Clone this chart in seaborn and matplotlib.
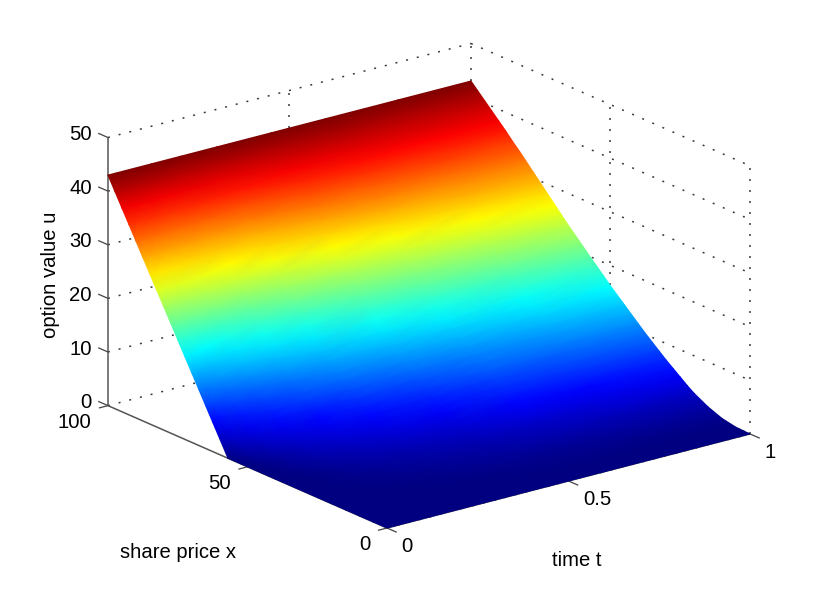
import numpy as np
import matplotlib
matplotlib.use("Agg")
import matplotlib.pyplot as plt
from matplotlib.colors import LinearSegmentedColormap
import seaborn as sns
from mpl_toolkits.mplot3d import proj3d

# ---- data ----
share_price = [0, 5, 10, 15, 20, 22.5, 25, 27.5, 30, 32.5, 35, 37.5, 40, 42.5, 45, 47.5, 50, 52.5, 55, 57,
               60, 62.5, 65, 67.5, 70, 72.5, 75, 77.5, 80, 82.5, 85, 87.5, 90, 92.5, 95, 97.5, 100]
time_values = [0, 0.02, 0.06, 0.12, 0.2, 0.3, 0.45, 0.6, 0.8, 1.0]
u_t000 = [0, 0, 0, 0, 0, 0, 0, 0, 0, 0, 0, 0, 0, 0, 0, 0, 0, 0, 0, 0,
          3, 5.5, 8, 10.5, 13, 15.5, 18, 20.5, 23, 25.5, 28, 30.5, 33, 35.5, 38, 40.5, 43]
u_t002 = [0, 0, 0, 0, 0, 0, 0, 0, 0, 0, 0, 0, 0, 0, 0.1, 0.3, 0.6, 1.1, 1.9, 2.8,
          4.5, 6.3, 8.4, 10.7, 13.1, 15.5, 18, 20.5, 23, 25.5, 28, 30.5, 33, 35.5, 38, 40.5, 43]
u_t006 = [0, 0, 0, 0, 0, 0, 0, 0, 0.05, 0.1, 0.16, 0.3, 0.45, 0.7, 1, 1.5, 2.1, 2.9, 3.9, 4.8,
          6.5, 8.1, 9.9, 11.8, 13.9, 16.1, 18.4, 20.7, 23.1, 25.5, 28, 30.5, 33, 35.5, 38, 40.5, 43]
u_t012 = [0, 0, 0, 0, 0.1, 0.15, 0.2, 0.3, 0.4, 0.6, 0.8, 1.1, 1.45, 1.9, 2.45, 3.1, 3.9, 4.8, 5.9, 6.8,
          8.5, 9.9, 11.5, 13.3, 15.2, 17.2, 19.3, 21.5, 23.7, 26, 28.4, 30.8, 33.2, 35.6, 38.1, 40.5, 43]
u_t020 = [0, 0, 0, 0.1, 0.3, 0.45, 0.6, 0.8, 1.1, 1.4, 1.8, 2.3, 2.8, 3.4, 4.1, 4.9, 5.7, 6.7, 7.9, 8.8,
          10.4, 11.8, 13.4, 15, 16.8, 18.7, 20.6, 22.6, 24.7, 26.9, 29.1, 31.4, 33.7, 36, 38.3, 40.6, 43]
u_t030 = [0, 0, 0.1, 0.3, 0.6, 0.8, 1.1, 1.4, 1.8, 2.3, 2.9, 3.5, 4.2, 5, 5.8, 6.7, 7.6, 8.7, 9.8, 10.8,
          12.3, 13.7, 15.2, 17, 18.9, 20.7, 22.6, 24.5, 26.4, 28.4, 30.4, 32.5, 34.6, 36.7, 38.8, 40.9, 43]
u_t045 = [0, 0, 0.2, 0.6, 1.2, 1.6, 2, 2.5, 3, 3.6, 4.3, 5.1, 5.9, 6.8, 7.8, 8.9, 10, 11, 12.1, 13.2,
          15, 16.7, 18.4, 20.1, 21.8, 23.5, 25.2, 27, 28.8, 30.7, 32.6, 34.3, 36, 37.8, 39.5, 41.2, 43]
u_t060 = [0, 0.1, 0.4, 1, 1.9, 2.4, 3, 3.9, 4.8, 5.6, 6.4, 7.3, 8.2, 9.1, 10, 10.9, 11.9, 13, 14.2, 15.3,
          17, 18.5, 20, 21.6, 23.2, 24.9, 26.7, 28.5, 30.3, 32.1, 33.9, 35.5, 37, 38.5, 40, 41.5, 43]
u_t080 = [0, 0.1, 0.5, 1.3, 2.5, 3.2, 3.9, 4.8, 5.7, 6.6, 7.6, 8.6, 9.7, 10.8, 11.9, 13, 14.2, 15.4, 16.6, 17.7,
          19.3, 20.7, 22.2, 23.8, 25.5, 27, 28.5, 30.1, 31.7, 33.2, 34.8, 36.2, 37.6, 39, 40.3, 41.6, 43]
u_t100 = [0, 0.1, 0.6, 1.6, 3, 3.9, 4.9, 5.9, 6.9, 8, 9.1, 10.2, 11.4, 12.6, 13.8, 15, 16.2, 17.5, 18.8, 19.8,
          21.4, 22.7, 24, 25.4, 26.8, 28.2, 29.6, 31, 32.4, 33.8, 35.1, 36.5, 37.8, 39.1, 40.4, 41.7, 43]
x_ticks = [0, 50, 100]
t_ticks = [0, 0.5, 1]
z_ticks = [0, 10, 20, 30, 40, 50]
x_tick_labels = ["0", "50", "100"]
t_tick_labels = ["0", "0.5", "1"]
z_tick_labels = ["0", "10", "20", "30", "40", "50"]

W, H = 830, 596
sns.set_theme(style="white")
plt.rcParams["font.family"] = ["Liberation Sans", "DejaVu Sans"]
jet = LinearSegmentedColormap.from_list("jet_classic", [
    (0.0, (0, 0, 0.5)), (0.125, (0, 0, 1)), (0.375, (0, 1, 1)),
    (0.625, (1, 1, 0)), (0.875, (1, 0, 0)), (1.0, (0.5, 0, 0))], N=256)

fig = plt.figure(figsize=(W / 100, H / 100), dpi=100, facecolor="white")
ax = fig.add_axes([0, 0, 1, 1], projection="3d", proj_type="ortho", zorder=1)
ax.view_init(elev=19.7, azim=-127.55)
ax.set_box_aspect((1, 1, 0.622))
ax.set_xlim(0, 1)
ax.set_ylim(0, 100)
ax.set_zlim(0, 50)
ax.set_axis_off()
ax.patch.set_visible(False)


def place(side, cx, cy):
    ax.set_position([(cx - side / 2) / W, (cy - side / 2) / H, side / W, side / H])
    ax.apply_aspect()


def to_px(t, x, z):
    shape = np.shape(t)
    xp, yp, _ = proj3d.proj_transform(np.ravel(np.asarray(t, float)), np.ravel(np.asarray(x, float)),
                                      np.ravel(np.asarray(z, float)), ax.get_proj())
    pts = ax.transData.transform(np.column_stack([xp, yp]))
    return pts[:, 0].reshape(shape), pts[:, 1].reshape(shape)


# fit the axes box so that the t=0,x=0 corner and the t axis fall where they do in the reference
side = 800.0
place(side, W / 2, H / 2)
x0, y0 = to_px(0.0, 0.0, 0.0)
x1, y1 = to_px(1.0, 0.0, 0.0)
side = side * 363.0 / float(x1 - x0)
place(side, W / 2, H / 2)
x0, y0 = to_px(0.0, 0.0, 0.0)
place(side, W / 2 + (387 - float(x0)), H / 2 + ((H - 528) - float(y0)))

GRID = dict(color="#3a3a3a", lw=1.1, ls=(0, (1.3, 5.9)), clip_on=False)
AXIS = dict(color="#555555", lw=1.1, clip_on=False, solid_capstyle="butt")
TICK = dict(color="#444444", lw=0.9, clip_on=False, solid_capstyle="butt")

# walls: constant-z rings and vertical lines
for z in z_ticks:
    ax.plot([0, 1], [100, 100], [z, z], **GRID)
    ax.plot([1, 1], [100, 0], [z, z], **GRID)
for t in t_ticks[1:]:
    ax.plot([t, t], [100, 100], [0, 50], **GRID)
    ax.plot([t, t], [0, 100], [0, 0], **GRID)
for x in x_ticks[:-1]:
    ax.plot([1, 1], [x, x], [0, 50], **GRID)
    ax.plot([0, 1], [x, x], [0, 0], **GRID)

# axes
ax.plot([0, 0], [100, 100], [0, 50], **AXIS)
ax.plot([0, 0], [0, 100], [0, 0], **AXIS)
ax.plot([0, 1], [0, 0], [0, 0], **AXIS)
for z in z_ticks:
    ax.plot([0, 0], [100, 103.5], [z, z], **TICK)
for x in x_ticks:
    ax.plot([0, -0.025], [x, x], [0, 0], **TICK)
for t in t_ticks:
    ax.plot([t, t], [0, -3.5], [0, 0], **TICK)

# surface, on a figure-wide overlay whose data units are pixels
over = fig.add_axes([0, 0, 1, 1], zorder=2)
over.set_xlim(0, W)
over.set_ylim(0, H)
over.axis("off")
over.patch.set_visible(False)

u_rows = np.array([u_t000, u_t002, u_t006, u_t012, u_t020, u_t030, u_t045, u_t060, u_t080, u_t100])
tt, xx = np.meshgrid(time_values, share_price, indexing="ij")
sx, sy = to_px(tt, xx, u_rows)
over.pcolormesh(sx, sy, u_rows, shading="gouraud", cmap=jet, vmin=0, vmax=43)

# text
FS = 14.6
for z, lab in zip(z_ticks, z_tick_labels):
    px, py = to_px(0.0, 100.0, z)
    over.text(float(px) - 16, float(py) + 3, lab, ha="right", va="center", fontsize=FS, color="black")
for x, lab in zip(x_ticks, x_tick_labels):
    px, py = to_px(0.0, x, 0.0)
    over.text(float(px) - 17, float(py) - 17, lab, ha="right", va="center", fontsize=FS, color="black")
for t, lab in zip(t_ticks, t_tick_labels):
    px, py = to_px(t, 0.0, 0.0)
    over.text(float(px) + 14.5, float(py) - 19, lab, ha="left", va="center", fontsize=FS, color="black")

over.text(178, H - 553, "share price x", ha="center", va="center", fontsize=FS, color="black")
over.text(577, H - 561, "time t", ha="center", va="center", fontsize=FS, color="black")
over.text(50, H - 275, "option value u", ha="center", va="center", rotation=90, fontsize=FS, color="black")

fig.savefig("out.png", dpi=100, facecolor="white")
